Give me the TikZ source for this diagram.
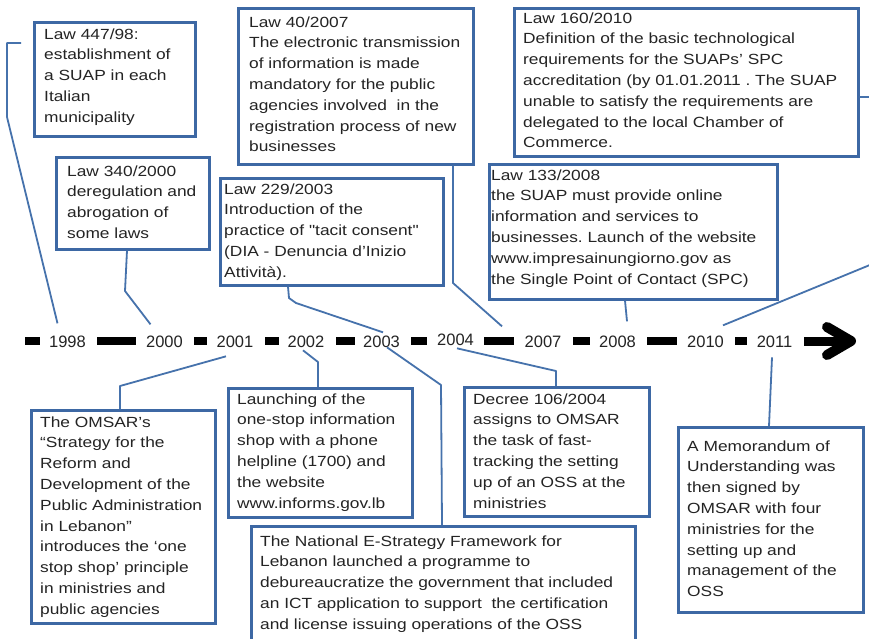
\documentclass[tikz,border=0pt]{standalone}
\usepackage{fontspec}
\setmainfont{Liberation Sans}
\newfontfamily\boxfont[FakeStretch=1.18]{Liberation Sans}
\frenchspacing
\definecolor{txtc}{HTML}{242424}
\definecolor{framec}{HTML}{3D68A4}
\definecolor{linkc}{HTML}{4672AC}
\newcommand\boxlines[1]{\parbox[t]{430pt}{\boxfont\fontsize{14.7}{20.8}\selectfont\raggedright #1}}
\tikzset{
  event/.style={draw=framec, line width=2.6pt, fill=white, rectangle, anchor=north west, inner sep=0pt},
  boxtext/.style={anchor=base west, inner sep=0pt, text=txtc},
  year/.style={anchor=base, inner sep=0pt, text=txtc, font=\fontsize{16.5}{18}\selectfont},
  link/.style={draw=linkc, line width=1.8pt, line join=round},
  tick/.style={fill=black}
}
\begin{document}
\begin{tikzpicture}[x=1pt,y=-1pt]
\useasboundingbox (0,0) rectangle (869,638);
\clip (0,0) rectangle (869,638);
\fill[white] (0,0) rectangle (869,638);

% timeline: dashes, year labels and arrow
\foreach \a/\b in {25/40, 97/136, 194/207, 265/279, 336/355, 411/427, 484/514, 573/590, 647/677, 735/747}
  \fill[tick] (\a,337) rectangle (\b,345);
\node[year] (y98) at (67.5,347) {1998};
\node[year] (y00) at (164.5,347) {2000};
\node[year] (y01) at (235,347) {2001};
\node[year] (y02) at (306,347) {2002};
\node[year] (y03) at (381.5,347) {2003};
\node[year] (y04) at (455.5,345) {2004};
\node[year] (y07) at (543,347) {2007};
\node[year] (y08) at (617.5,347) {2008};
\node[year] (y10) at (705.5,347) {2010};
\node[year] (y11) at (774.5,347) {2011};
\draw[line width=9pt] (804,341) -- (846,341);
\draw[line width=10pt, line cap=round, line join=round] (827,327) -- (851,341) -- (827,355);

% event boxes above the timeline
\node[event, minimum width=161pt, minimum height=114pt] (b447) at (33,21) {};
\node[boxtext] at ([shift={(11,18)}]b447.north west) {\boxlines{Law 447/98:\\establishment of\\a SUAP in each\\Italian\\municipality}};

\node[event, minimum width=153pt, minimum height=92pt] (b340) at (55,156) {};
\node[boxtext] at ([shift={(12,20)}]b340.north west) {\boxlines{Law 340/2000\\deregulation and\\abrogation of\\some laws}};

\node[event, minimum width=235pt, minimum height=156pt] (b40) at (237,7) {};
\node[boxtext] at ([shift={(12,20)}]b40.north west) {\boxlines{Law 40/2007\\The electronic transmission\\of information is made\\mandatory for the public\\agencies involved\ \ in the\\registration process of new\\businesses}};

\node[event, minimum width=223pt, minimum height=107pt] (b229) at (219,177) {};
\node[boxtext] at ([shift={(5,17)}]b229.north west) {\boxlines{Law 229/2003\\Introduction of the\\practice of "tacit consent"\\(DIA - Denuncia d’Inizio\\Attività).}};

\node[event, minimum width=344pt, minimum height=148pt] (b160) at (513,7) {};
\node[boxtext] at ([shift={(10,16)}]b160.north west) {\boxlines{Law 160/2010\\Definition of the basic technological\\requirements for the SUAPs’ SPC\\accreditation (by 01.01.2011 . The SUAP\\unable to satisfy the requirements are\\delegated to the local Chamber of\\Commerce.}};

\node[event, minimum width=288pt, minimum height=135pt] (b133) at (488,163) {};
\node[boxtext] at ([shift={(3,17)}]b133.north west) {\boxlines{Law 133/2008\\the SUAP must provide online\\information and services to\\businesses. Launch of the website\\www.impresainungiorno.gov as\\the Single Point of Contact (SPC)}};

% event boxes below the timeline
\node[event, minimum width=184pt, minimum height=213pt] (bomsar) at (30,409) {};
\node[boxtext] at ([shift={(10,18)}]bomsar.north west) {\boxlines{The OMSAR’s\\“Strategy for the\\Reform and\\Development of the\\Public Administration\\in Lebanon”\\introduces the ‘one\\stop shop’ principle\\in ministries and\\public agencies}};

\node[event, minimum width=184pt, minimum height=129pt] (blaunch) at (227,387) {};
\node[boxtext] at ([shift={(10,17)}]blaunch.north west) {\boxlines{Launching of the\\one-stop information\\shop with a phone\\helpline (1700) and\\the website\\www.informs.gov.lb}};

\node[event, minimum width=384pt, minimum height=140pt] (bnat) at (250,525) {};
\node[boxtext] at ([shift={(10,21)}]bnat.north west) {\boxlines{The National E-Strategy Framework for\\Lebanon launched a programme to\\debureaucratize the government that included\\an ICT application to support\ \ the certification\\and license issuing operations of the OSS}};

\node[event, minimum width=185pt, minimum height=129pt] (bdecree) at (463,386) {};
\node[boxtext] at ([shift={(10,18)}]bdecree.north west) {\boxlines{Decree 106/2004\\assigns to OMSAR\\the task of fast-\\tracking the setting\\up of an OSS at the\\ministries}};

\node[event, minimum width=185pt, minimum height=185pt] (bmou) at (677,426) {};
\node[boxtext] at ([shift={(10,25)}]bmou.north west) {\boxlines{A Memorandum of\\Understanding was\\then signed by\\OMSAR with four\\ministries for the\\setting up and\\management of the\\OSS}};

% connectors from the boxes to the years
\coordinate (s447) at ([shift={(-12,22)}]b447.north west);
\draw[link] (s447) -- (7,43) -- (7,117) -- ([shift={(-10,-18)}]y98.center);
\draw[link] ([xshift=72pt]b340.south west) -- (125,291) -- ([shift={(-14,-17)}]y00.center);
\draw[link] ([xshift=69pt]b229.south west) -- (289,298) -- (296,303) -- ([shift={(1.5,-9)}]y03.center);
\draw[link] ([xshift=216pt]b40.south west) -- (453,283) -- ([shift={(-41,-15)}]y07.center);
\draw[link] ([xshift=137pt]b133.south west) -- ([shift={(9.5,-20)}]y08.center);
\draw[link] ([shift={(0,90)}]b160.north east) -- (882,97) -- (882,260) -- ([shift={(17.5,-16)}]y10.center);
\draw[link] ([shift={(-9,15)}]y01.center) -- (120,386) -- ([xshift=90pt]bomsar.north west);
\draw[link] ([shift={(-3,9)}]y02.center) -- (318,362) -- ([xshift=91pt]blaunch.north west);
\draw[link] ([shift={(5.5,6)}]y03.center) -- (441,385) -- ([xshift=192pt]bnat.north west);
\draw[link] ([shift={(1.5,9)}]y04.center) -- (556,371) -- ([xshift=93pt]bdecree.north west);
\draw[link] ([shift={(-2.5,16)}]y11.center) -- ([xshift=92pt]bmou.north west);
\end{tikzpicture}
\end{document}
